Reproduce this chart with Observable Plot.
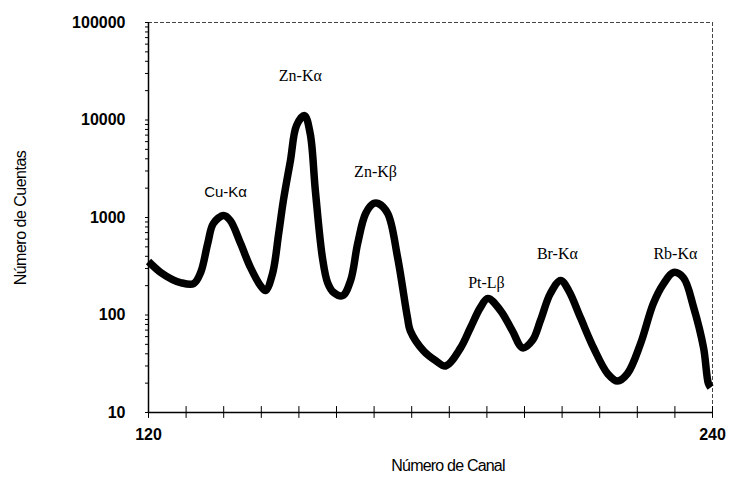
<!DOCTYPE html>
<html>
<head>
<meta charset="utf-8">
<script src="https://cdn.jsdelivr.net/npm/d3@7"></script>
<script src="https://cdn.jsdelivr.net/npm/@observablehq/plot@0.6"></script>
<style>
  html, body { margin: 0; padding: 0; background: #fff; }
  #chart { width: 730px; height: 481px; }
</style>
</head>
<body>
<div id="chart"></div>
<script>
// Spectrum: channel number and counts
const channels = [120.0, 122.6, 125.1, 126.8, 129.6, 131.1, 132.6, 133.8, 136.0, 137.4,
  139.6, 141.7, 143.8, 144.9, 146.4, 147.7, 148.7, 150.2, 151.5, 153.2,
  154.4, 155.5, 157.0, 158.1, 159.4, 161.3, 163.0, 164.5, 166.2, 167.9,
  168.9, 170.9, 173.0, 175.1, 175.7, 178.5, 181.1, 183.2, 186.4, 188.5,
  190.6, 192.2, 194.9, 197.4, 199.6, 201.7, 203.4, 205.5, 207.7, 209.4,
  211.9, 214.7, 217.7, 219.8, 221.9, 224.7, 227.4, 229.6, 231.7, 233.8,
  236.0, 238.1, 239.1, 239.6];
const counts = [354, 273, 231, 215, 210, 273, 541, 868, 1050, 932,
  541, 307, 201, 178, 267, 685, 1494, 3840, 8790, 11100,
  7270, 1890, 389, 215, 170, 158, 226, 541, 1099, 1392,
  1392, 1099, 389, 94, 69, 43, 34, 30, 46, 74,
  119, 148, 111, 69, 46, 55, 88, 166, 226, 178,
  94, 46, 25, 21, 25, 51, 131, 210, 273, 242,
  119, 46, 20, 18];

// Peak labels
const sansNames = ["Cu-Kα"];
const sansChannels = [136.4];
const sansCounts = [1804];
const serifNames = ["Zn-Kα", "Zn-Kβ", "Pt-Lβ", "Br-Kα", "Rb-Kα"];
const serifChannels = [152.3, 168.3, 191.9, 207.0, 232.1];
const serifCounts = [28600, 2960, 215, 427, 427];

// Axis ticks
const yTickValues = [10, 100, 1000, 10000, 100000];
const xTickLabels = [120, 240];
const xTickMarks = d3.range(120, 241, 8);
const yMinorTicks = [];
for (const d of [10, 100, 1000, 10000]) for (let k = 2; k <= 9; k++) yMinorTicks.push(d * k);

const spectrum = channels.map((c, i) => ({channel: c, counts: counts[i]}));
const sansLabels = sansNames.map((n, i) => ({name: n, channel: sansChannels[i], counts: sansCounts[i]}));
const serifLabels = serifNames.map((n, i) => ({name: n, channel: serifChannels[i], counts: serifCounts[i]}));

const font = "'Liberation Sans', Arial, sans-serif";
const serif = "'Liberation Serif', 'Times New Roman', serif";

const chart = Plot.plot({
  width: 730,
  height: 481,
  marginLeft: 148,
  marginRight: 18,
  marginTop: 22,
  marginBottom: 69,
  style: {fontFamily: font, background: "#fff", color: "#000"},
  x: {domain: [120, 240], axis: null},
  y: {type: "log", domain: [10, 100000], axis: null},
  marks: [
    // frame: dashed top and right, solid left and bottom
    Plot.ruleY([100000], {stroke: "#444", strokeWidth: 1, strokeDasharray: "4,2"}),
    Plot.ruleX([240], {stroke: "#444", strokeWidth: 1, strokeDasharray: "4,2"}),
    // y axis
    Plot.axisY(yMinorTicks, {tickSize: 3, tickFormat: () => "", strokeWidth: 1, label: null}),
    Plot.axisY(yTickValues, {tickSize: 3, tickPadding: 20, tickFormat: d => String(d),
      fontSize: 16, fontWeight: "bold", letterSpacing: "-1px", strokeWidth: 1,
      label: null}),
    // x axis
    Plot.ruleX(xTickMarks, {y1: 8.7, y2: 11.5, stroke: "#000", strokeWidth: 1}),
    Plot.axisX(xTickLabels, {tickSize: 0, tickPadding: 16, tickFormat: d => String(d),
      fontSize: 16, fontWeight: "bold", letterSpacing: "-1px",
      label: null}),
    Plot.ruleX([120], {stroke: "#000", strokeWidth: 1.5}),
    Plot.ruleY([10], {stroke: "#000", strokeWidth: 1.5}),
    // spectrum line
    Plot.line(spectrum, {x: "channel", y: "counts", stroke: "#000", strokeWidth: 7.5,
      curve: "catmull-rom", strokeLinejoin: "round", strokeLinecap: "butt"}),
    // peak labels
    Plot.text(sansLabels, {x: "channel", y: "counts", text: "name", fontSize: 15,
      fontFamily: font, fill: "#000"}),
    Plot.text(serifLabels, {x: "channel", y: "counts", text: "name", fontSize: 16,
      fontFamily: serif, fill: "#000"})
  ]
});

document.getElementById("chart").appendChild(chart);
const svg = d3.select(chart);
svg.append("text")
  .attr("x", 448).attr("y", 471)
  .attr("text-anchor", "middle")
  .attr("font-family", font)
  .attr("font-size", 16)
  .attr("letter-spacing", "-0.8px")
  .text("Número de Canal");
svg.append("text")
  .attr("transform", "translate(26,218) rotate(-90)")
  .attr("text-anchor", "middle")
  .attr("font-family", font)
  .attr("font-size", 16)
  .attr("letter-spacing", "-0.5px")
  .text("Número de Cuentas");
</script>
</body>
</html>
